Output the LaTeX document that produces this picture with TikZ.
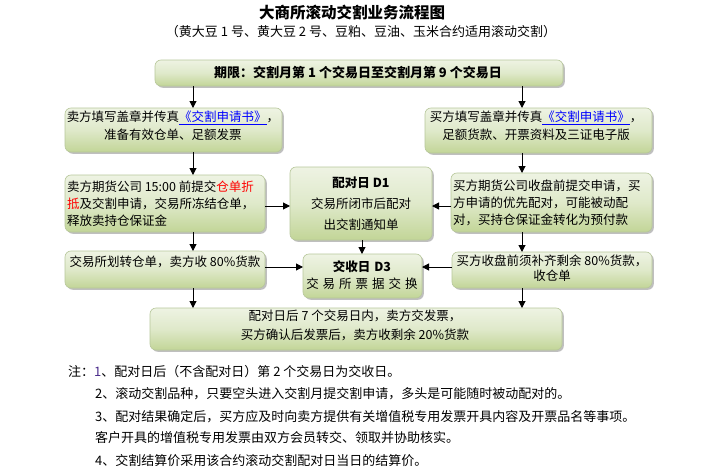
\documentclass[tikz,border=0pt]{standalone}
\usepackage{fontspec}
\setmainfont{Noto Sans CJK SC}
\usetikzlibrary{arrows.meta,shadows}
\definecolor{gtop}{HTML}{EEF3E3}
\definecolor{gmid}{HTML}{DFE9CA}
\definecolor{gbot}{HTML}{C2D597}
\definecolor{boxline}{HTML}{B7C79A}
\definecolor{linkblue}{HTML}{0000FF}
\definecolor{notenum}{HTML}{4B2C8C}
\newcommand\fsbox{\fontsize{12.5}{17}\selectfont}
\newcommand\fsnote{\fontsize{13}{17}\selectfont}
\newcommand\fsdel{\fontsize{12.5}{16.5}\selectfont\spaceskip=4pt\relax}
\newcommand\linkt[1]{\textcolor{linkblue}{\underline{#1}}}
\tikzset{
  box/.style={rectangle, anchor=north west, inner sep=0pt, outer sep=0pt,
    rounded corners=6pt, draw=boxline, line width=0.6pt,
    top color=gtop, bottom color=gbot, middle color=gmid,
    drop shadow={shadow xshift=1.8pt, shadow yshift=-1.8pt, opacity=0.45, fill=black!55}},
  txt/.style={inner sep=0pt, outer sep=0pt, font=\fsbox, align=center},
  note/.style={inner sep=0pt, anchor=west, font=\fsnote},
  arr/.style={draw=black, line width=1pt, -{Triangle[length=7pt,width=7pt]}}
}
\begin{document}
\begin{tikzpicture}[x=1pt,y=-1pt]
\useasboundingbox (0,0) rectangle (721,474);
\fill[white] (0,0) rectangle (721,474);

% titles
\node[inner sep=0pt, font=\fontsize{15.5}{18}\selectfont\bfseries] (title) at (352,13) {大商所滚动交割业务流程图};
\node[inner sep=0pt, font=\fontsize{13}{15}\selectfont] (subtitle) at (361,32) {（黄大豆 1 号、黄大豆 2 号、豆粕、豆油、玉米合约适用滚动交割）};

% boxes
\node[box, minimum width=408pt, minimum height=26pt] (period) at (155,60) {};
\node[box, minimum width=217pt, minimum height=44pt] (s1) at (65,108) {};
\node[box, minimum width=227pt, minimum height=45pt] (b1) at (425,108) {};
\node[box, minimum width=200pt, minimum height=57pt] (s2) at (65,175) {};
\node[box, minimum width=142pt, minimum height=73pt] (m) at (290,167) {};
\node[box, minimum width=201pt, minimum height=59pt] (b2) at (451,173) {};
\node[box, minimum width=200pt, minimum height=37pt] (s3) at (65,251) {};
\node[box, minimum width=119pt, minimum height=44pt] (d) at (303,254) {};
\node[box, minimum width=200pt, minimum height=36pt] (b3) at (452,252) {};
\node[box, minimum width=412pt, minimum height=42pt] (bot) at (150,308) {};

% box texts
\node[txt, font=\fontsize{13}{16}\selectfont\bfseries] (periodT) at (358,73) {期限：交割月第 1 个交易日至交割月第 9 个交易日};
\node[txt, font=\fontsize{12.5}{18}\selectfont] (s1T) at (173,126) {卖方填写盖章并传真\linkt{《交割申请书》}，\\准备有效仓单、足额发票};
\node[txt, font=\fontsize{12.5}{18}\selectfont] (b1T) at (536,126) {买方填写盖章并传真\linkt{《交割申请书》}，\\足额货款、开票资料及三证电子版};
\node[txt, align=left, anchor=west] (s2T) at (67,204) {卖方期货公司 15:00 前提交\textcolor{red}{仓单折}\\\textcolor{red}{抵}及交割申请，交易所冻结仓单，\\释放卖持仓保证金};
\node[txt, font=\fontsize{12.5}{21}\selectfont] (mT) at (361,204) {\textbf{配对日 D1}\\交易所闭市后配对\\出交割通知单};
\node[txt, align=left, anchor=west] (b2T) at (453,203) {买方期货公司收盘前提交申请，买\\方申请的优先配对，可能被动配\\对，买持仓保证金转化为预付款};
\node[txt] (s3T) at (165,262) {交易所划转仓单，卖方收 80\%货款};
\node[txt, font=\fsdel] (dT) at (362,275) {\textbf{交收日 D3}\\交 易 所 票 据 交 换};
\node[txt, font=\fontsize{12.5}{15.5}\selectfont] (b3T) at (552,268) {买方收盘前须补齐剩余 80\%货款，\\收仓单};
\node[txt, font=\fontsize{12.5}{19}\selectfont] (botT) at (355,325) {配对日后 7 个交易日内，卖方交发票，\\买方确认后发票后，卖方收剩余 20\%货款};

% connector guide coordinates
\coordinate (cL) at (193,0);
\coordinate (cR) at (522,0);
\coordinate (cM) at (362,0);
\coordinate (r1) at (0,206);
\coordinate (r2) at (0,267);

% connectors
\draw[arr] (period.south -| cL) -- (s1.north -| cL);
\draw[arr] (period.south -| cR) -- (b1.north -| cR);
\draw[arr] (s1.south -| cL) -- (s2.north -| cL);
\draw[arr] (b1.south -| cR) -- (b2.north -| cR);
\draw[arr] (s2.east |- r1) -- (m.west |- r1);
\draw[arr] (b2.west |- r1) -- (m.east |- r1);
\draw[arr] (s2.south -| cL) -- (s3.north -| cL);
\draw[arr] (m.south -| cM) -- (d.north -| cM);
\draw[arr] (b2.south -| cR) -- (b3.north -| cR);
\draw[arr] (s3.east |- r2) -- (d.west |- r2);
\draw[arr] (b3.west |- r2) -- (d.east |- r2);
\draw[arr] (s3.south -| cL) -- (bot.north -| cL);
\draw[arr] (b3.south -| cR) -- (bot.north -| cR);

% notes
\node[note] (n1) at (68,372) {注：\textcolor{notenum}{1}、配对日后（不含配对日）第 2 个交易日为交收日。};
\node[note] (n2) at (95,394) {2、滚动交割品种，只要空头进入交割月提交割申请，多头是可能随时被动配对的。};
\node[note] (n3) at (95,417) {3、配对结果确定后，买方应及时向卖方提供有关增值税专用发票开具内容及开票品名等事项。};
\node[note] (n4) at (95,438) {客户开具的增值税专用发票由双方会员转交、领取并协助核实。};
\node[note] (n5) at (95,461) {4、交割结算价采用该合约滚动交割配对日当日的结算价。};
\end{tikzpicture}
\end{document}
